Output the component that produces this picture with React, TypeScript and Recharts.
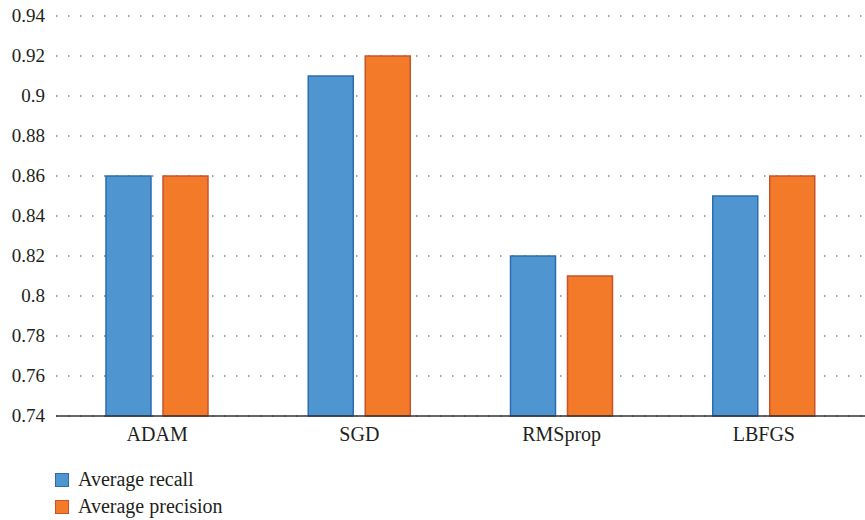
import { Bar, BarChart, CartesianGrid, Legend, XAxis, YAxis } from 'recharts';

const optimizers = ['ADAM', 'SGD', 'RMSprop', 'LBFGS'];
const averageRecall = [0.86, 0.91, 0.82, 0.85];
const averagePrecision = [0.86, 0.92, 0.81, 0.86];
const yTicks = [0.74, 0.76, 0.78, 0.8, 0.82, 0.84, 0.86, 0.88, 0.9, 0.92, 0.94];

const series = [
	{ key: 'recall', name: 'Average recall', fill: '#4f95d0', stroke: '#2b6cb3' },
	{ key: 'precision', name: 'Average precision', fill: '#f27a28', stroke: '#c8532b' },
];

const data = optimizers.map((name, i) => ({
	name,
	recall: averageRecall[i],
	precision: averagePrecision[i],
}));

const FONT = '"Liberation Serif", "DejaVu Serif", serif';
const TEXT = '#231f20';

// axis labels drawn by hand so the serif face is applied reliably
const XTick = ({ x, y, payload }: any) => (
	<text x={x} y={y + 23} textAnchor="middle" fill={TEXT} fontSize={20} fontFamily={FONT}>
		{payload.value}
	</text>
);

const YTick = ({ x, y, payload }: any) => (
	<text x={x - 9} y={y + 6} textAnchor="end" fill={TEXT} fontSize={19} fontFamily={FONT}>
		{String(payload.value)}
	</text>
);

const LegendBox = () => (
	<div style={{ fontFamily: FONT, fontSize: 20, color: TEXT }}>
		{series.map((s) => (
			<div key={s.key} style={{ display: 'flex', alignItems: 'center', height: 27 }}>
				<span
					style={{
						display: 'inline-block',
						width: 12,
						height: 12,
						background: s.fill,
						border: `1.5px solid ${s.stroke}`,
						marginRight: 9,
					}}
				/>
				{s.name}
			</div>
		))}
	</div>
);

export default function App() {
	return (
		<div style={{ position: 'absolute', left: 0, top: 0, background: '#fff', fontFamily: FONT }}>
			<BarChart
				width={865}
				height={520}
				data={data}
				margin={{ top: 16, right: 0, bottom: 74, left: 0 }}
				barCategoryGap={50}
				barGap={12}
			>
				<CartesianGrid
					vertical={false}
					stroke="#444"
					strokeDasharray="1.5 10.5"
					horizontalValues={yTicks}
				/>
				<XAxis
					dataKey="name"
					height={30}
					tickLine={false}
					axisLine={{ stroke: '#333', strokeWidth: 1.5 }}
					tickSize={0}
					tick={<XTick />}
				/>
				<YAxis
					width={56}
					domain={[0.74, 0.94]}
					ticks={yTicks}
					interval={0}
					tickLine={false}
					axisLine={false}
					tickSize={0}
					tick={<YTick />}
				/>
				<Legend
					layout="vertical"
					align="center"
					verticalAlign="middle"
					wrapperStyle={{ left: 55, top: 466, width: 300 }}
					content={() => <LegendBox />}
				/>
				{series.map((s) => (
					<Bar
						key={s.key}
						dataKey={s.key}
						name={s.name}
						fill={s.fill}
						stroke={s.stroke}
						strokeWidth={1.5}
						isAnimationActive={false}
					/>
				))}
			</BarChart>
		</div>
	);
}
